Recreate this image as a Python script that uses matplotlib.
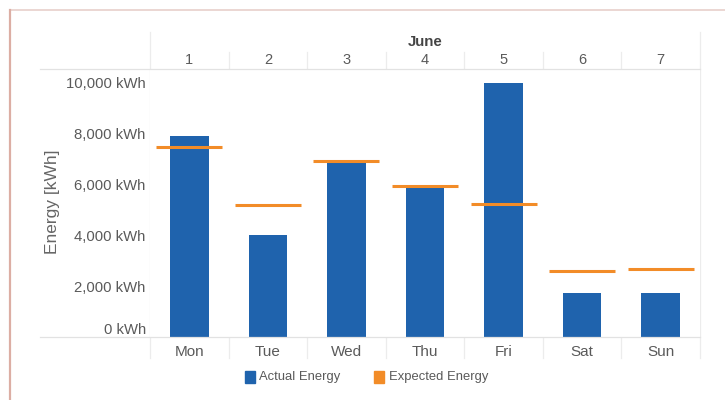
import matplotlib
matplotlib.use('Agg')
import matplotlib.pyplot as plt
from matplotlib.lines import Line2D
from matplotlib.patches import Rectangle

# data
days = ['Mon', 'Tue', 'Wed', 'Thu', 'Fri', 'Sat', 'Sun']
day_numbers = ['1', '2', '3', '4', '5', '6', '7']
month = 'June'
actual_energy = [7900, 4000, 6820, 5850, 9950, 1730, 1720]
expected_energy = [7450, 5180, 6900, 5920, 5200, 2590, 2670]
y_ticks = [0, 2000, 4000, 6000, 8000, 10000]

BLUE = '#1f63ad'
ORANGE = '#f28c28'
TEXT = '#5a5a5a'
GRID = '#ececec'

plt.rcParams['font.family'] = ['Liberation Sans', 'DejaVu Sans']

W, H = 725, 400
fig = plt.figure(figsize=(W / 100, H / 100), dpi=100)

def fx(px):
    return px / W

def fy(py):
    return 1 - py / H

# plot area in pixel coords of the reference
left, right, top, bottom = 150, 700, 69, 337
ax = fig.add_axes([fx(left), fy(bottom), fx(right) - fx(left), fy(top) - fy(bottom)])

x = list(range(len(days)))
ax.bar(x, actual_energy, width=0.49, color=BLUE, zorder=2)
ax.hlines(expected_energy, [i - 0.42 for i in x], [i + 0.42 for i in x],
          colors=ORANGE, linewidth=2.2, zorder=3)

ax.set_xlim(-0.5, len(days) - 0.5)
ax.set_ylim(0, 10510)
ax.set_yticks(y_ticks)
ax.set_yticklabels([f'{v:,} kWh' for v in y_ticks], color=TEXT, fontsize=10.7)
ax.tick_params(axis='y', length=0, pad=3)
ax.set_xticks([])
for s in ax.spines.values():
    s.set_visible(False)
# keep 0 kWh label inside the plot like the original
ax.get_yticklabels()[0].set_va('bottom')

# column separators
col_w = (right - left) / len(days)
for i in range(len(days) + 1):
    xp = left + i * col_w
    y0 = 32 if i in (0, len(days)) else 52
    fig.add_artist(Line2D([fx(xp), fx(xp)], [fy(y0), fy(358)], color=GRID, lw=0.9, zorder=0))

# header / baseline rules
for yp in (top, bottom):
    fig.add_artist(Line2D([fx(40), fx(right)], [fy(yp), fy(yp)], color='#e2e2e2', lw=0.9))

# header text and day names
fig.text(fx((left + right) / 2), fy(42), month, ha='center', va='center',
         fontsize=10.8, fontweight='bold', color='#444444')
for i in range(len(days)):
    cx = fx(left + (i + 0.5) * col_w)
    fig.text(cx, fy(60), day_numbers[i], ha='center', va='center', fontsize=10.5, color=TEXT)
    fig.text(cx, fy(352), days[i], ha='center', va='center', fontsize=11, color=TEXT)

fig.text(fx(52), fy(202), 'Energy [kWh]', rotation=90, ha='center', va='center',
         fontsize=12.5, color='#666666')

# legend
fig.add_artist(Rectangle((fx(245), fy(383)), fx(10), fy(371) - fy(383), color=BLUE))
fig.text(fx(259), fy(377), 'Actual Energy', va='center', fontsize=9.4, color=TEXT)
fig.add_artist(Rectangle((fx(374), fy(383)), fx(10), fy(371) - fy(383), color=ORANGE))
fig.text(fx(389), fy(377), 'Expected Energy', va='center', fontsize=9.4, color=TEXT)

# outer frame (top and left edges visible)
fig.add_artist(Line2D([fx(10), 1], [fy(10), fy(10)], color='#e8cfcb', lw=1.2))
fig.add_artist(Line2D([fx(10), fx(10)], [fy(10), 0], color='#dcaea4', lw=1.6))

fig.savefig('out.png', dpi=100, facecolor='white')
